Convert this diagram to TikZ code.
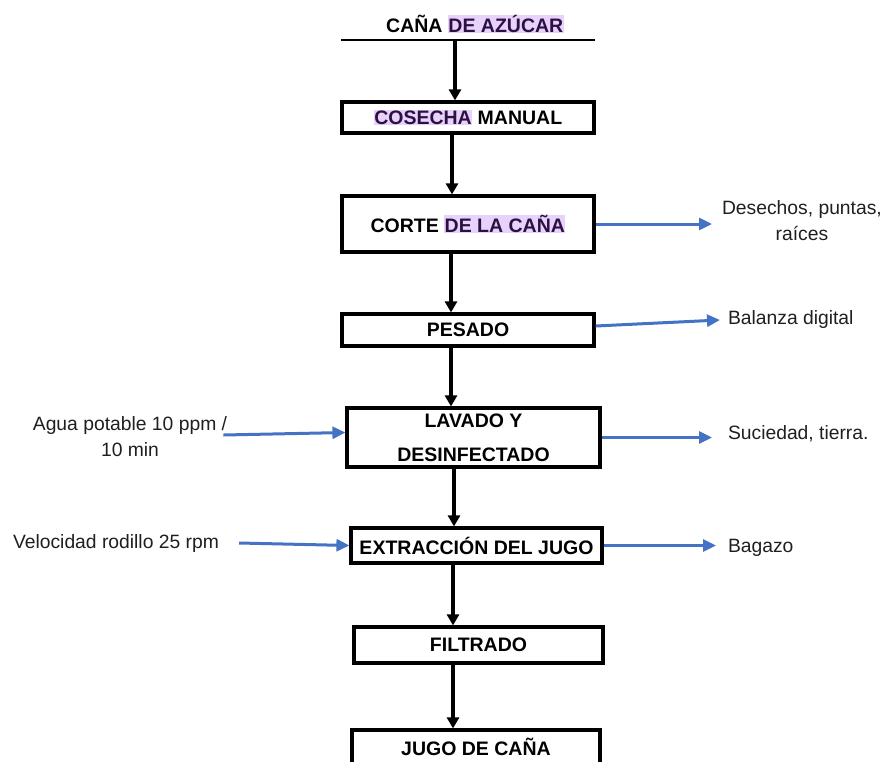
\documentclass[tikz,border=0pt]{standalone}
\usepackage{fontspec}
\setmainfont{Liberation Sans}
\usetikzlibrary{arrows.meta}

\definecolor{azulflecha}{RGB}{68,114,196}
\definecolor{lila}{RGB}{231,210,250}
\definecolor{morado}{RGB}{45,15,70}
\newcommand{\resalta}[1]{{\setlength{\fboxsep}{0.5pt}\colorbox{lila}{\textcolor{morado}{#1}}}}

\begin{document}
\begin{tikzpicture}[x=1pt, y=-1pt,
		caja/.style={draw, line width=3.2pt, minimum width=252pt, inner sep=0pt,
			font=\fontsize{19.5}{26}\selectfont\bfseries},
		flecha/.style={line width=3.6pt, -{Triangle[width=12pt,length=11pt]}},
		flechaazul/.style={draw=azulflecha, line width=3pt,
			-{Triangle[width=12pt,length=13pt]}, color=azulflecha},
		etiqueta/.style={inner sep=0pt, text=black!88,
			font=\fontsize{19.3}{26}\selectfont}]
		\useasboundingbox (0,0) rectangle (885,761);

		\node[inner sep=0pt, font=\fontsize{19.5}{26}\selectfont\bfseries] (titulo) at (475,24) {CAÑA \resalta{DE AZÚCAR}};
		\draw[line width=1.8pt] (341,40) -- (595,40);
		\coordinate (raya) at (455,40);

		\node[caja, minimum height=31pt] (cosecha) at (468,117.5) {\resalta{COSECHA} MANUAL};
		\node[caja, minimum height=56pt] (corte) at (468,224) {CORTE \resalta{DE LA CAÑA}};
		\node[caja, minimum height=32pt] (pesado) at (468,330) {PESADO};
		\node[caja, minimum width=253pt, minimum height=59pt, align=center] (lavado) at (473.5,437.5) {LAVADO Y\\[8pt]DESINFECTADO};
		\node[caja, minimum width=251pt, minimum height=35pt] (extraccion) at (476.5,545.5) {EXTRACCIÓN DEL JUGO};
		\node[caja, minimum width=249pt, minimum height=36pt] (filtrado) at (478.5,645) {FILTRADO};
		\node[caja, minimum width=248pt, minimum height=34pt] (jugo) at (476,747) {JUGO DE CAÑA};

		\draw[flecha] (raya) -- (cosecha.north -| raya);
		\draw[flecha] ([xshift=-16pt]cosecha.south) -- ([xshift=-16pt]corte.north);
		\draw[flecha] ([xshift=-17pt]corte.south) -- ([xshift=-17pt]pesado.north);
		\draw[flecha] ([xshift=-17pt]pesado.south) -- ([xshift=-22.5pt]lavado.north);
		\draw[flecha] ([xshift=-19.5pt]lavado.south) -- ([xshift=-22.5pt]extraccion.north);
		\draw[flecha] ([xshift=-23.5pt]extraccion.south) -- ([xshift=-25.5pt]filtrado.north);
		\draw[flecha] ([xshift=-25.5pt]filtrado.south) -- ([xshift=-23pt]jugo.north);

		\node[etiqueta, align=center, anchor=west, outer xsep=10pt] (desechos) at (712,221) {Desechos, puntas,\\raíces};
		\node[etiqueta, anchor=west, outer xsep=8pt] (balanza) at (720,320) {Balanza digital};
		\node[etiqueta, anchor=west, outer xsep=16pt] (suciedad) at (712,434) {Suciedad, tierra.};
		\node[etiqueta, anchor=west, outer xsep=12pt] (bagazo) at (716,548) {Bagazo};
		\node[etiqueta, align=center] (agua) at (130,437) {Agua potable 10 ppm /\\10 min};
		\node[etiqueta] (velocidad) at (116,543) {Velocidad rodillo 25 rpm};

		\draw[flechaazul] (corte.east) -- (corte.east -| desechos.west);
		\draw[flechaazul] ([yshift=4pt]pesado.east) -- (balanza.west);
		\draw[flechaazul] (lavado.east) -- (lavado.east -| suciedad.west);
		\draw[flechaazul] (extraccion.east) -- (extraccion.east -| bagazo.west);
		\draw[flechaazul] ([xshift=-4pt,yshift=2pt]agua.east) -- ([yshift=5pt]lavado.west);
		\draw[flechaazul] ([xshift=20pt]velocidad.east) -- (extraccion.west);
	\end{tikzpicture}
\end{document}
